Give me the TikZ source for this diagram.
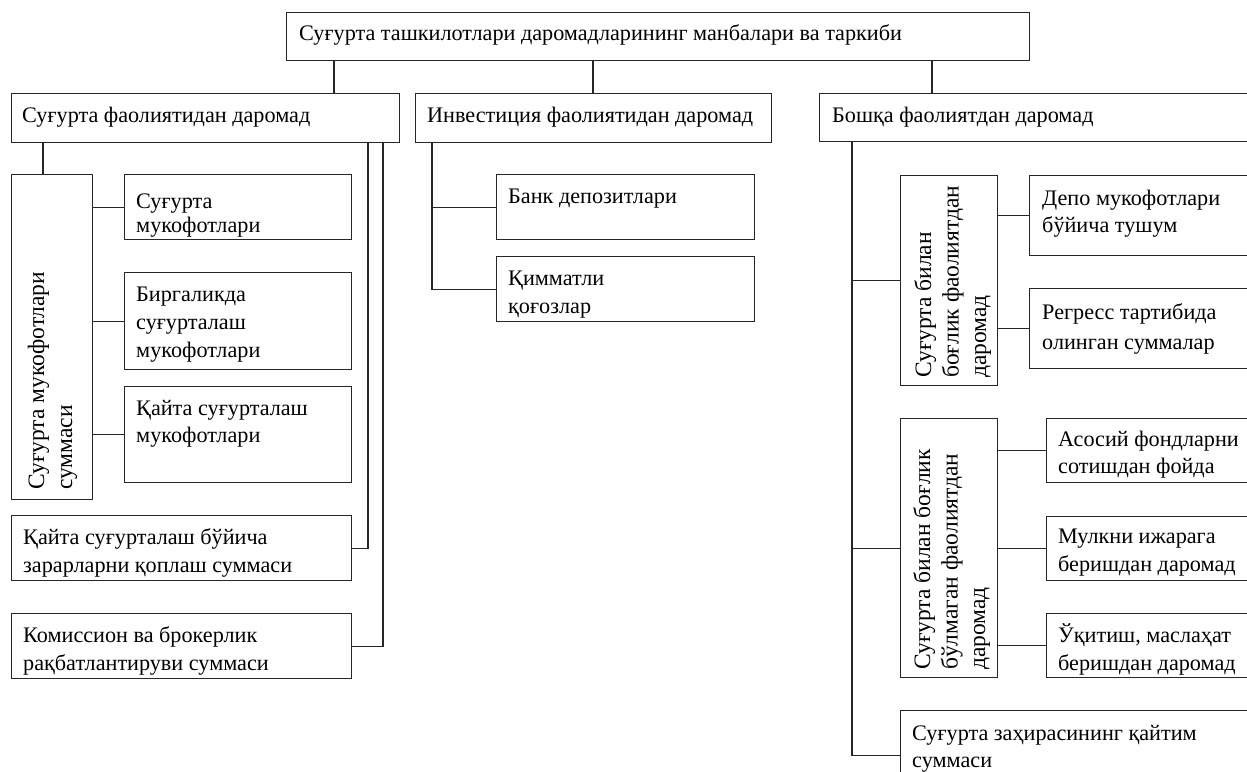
\documentclass[tikz,border=0pt]{standalone}
\usepackage{fontspec}
\setmainfont{Liberation Serif}
\tikzset{
  box/.style={draw=black!85, line width=1.2pt, rectangle, inner sep=0pt, anchor=north west},
  txt/.style={inner sep=0pt, anchor=base west, font=\fontsize{22.2}{28}\selectfont},
  vtxt/.style={txt, rotate=90, font=\fontsize{23.5}{27.5}\selectfont},
  conn/.style={draw=black!85, line width=1.2pt}
}
\newcommand\tl[2]{\vtop{\hbox{#1}\hbox{#2}}}
\newcommand\thl[3]{\vtop{\hbox{#1}\hbox{#2}\hbox{#3}}}
\begin{document}
\begin{tikzpicture}[x=1pt,y=-1pt]
\useasboundingbox[fill=white] (0,0) rectangle (1247,771);
% top
\node[box, minimum width=743, minimum height=48] (top) at (286,12) {};
\node[txt] (topt) at (299,40) {Суғурта ташкилотлари даромадларининг манбалари ва таркиби};
% level 1
\node[box, minimum width=388, minimum height=49] (s) at (11,93) {};
\node[txt] (st) at (22,122) {Суғурта фаолиятидан даромад};
\node[box, minimum width=356, minimum height=49] (i) at (415,93) {};
\node[txt] (it) at (427,122) {Инвестиция фаолиятидан даромад};
\node[box, minimum width=450, minimum height=48] (b) at (819,93) {};
\node[txt] (bt) at (832,122) {Бошқа фаолиятдан даромад};
% left branch
\node[box, minimum width=81, minimum height=325] (v1) at (11,174) {};
\node[vtxt, font=\fontsize{23.5}{28}\selectfont] (v1t) at (44,490) {\tl{Суғурта мукофотлари}{суммаси}};
\node[box, minimum width=227, minimum height=65] (s1) at (124,174) {};
\node[txt, font=\fontsize{22.2}{24}\selectfont] (s1t) at (136,208) {\tl{Суғурта}{мукофотлари}};
\node[box, minimum width=227, minimum height=97] (s2) at (124,272) {};
\node[txt] (s2t) at (136,301) {\thl{Биргаликда}{суғурталаш}{мукофотлари}};
\node[box, minimum width=227, minimum height=96] (s3) at (124,386) {};
\node[txt, font=\fontsize{22.2}{27}\selectfont] (s3t) at (136,415) {\tl{Қайта суғурталаш}{мукофотлари}};
\node[box, minimum width=340, minimum height=65] (s4) at (11,515) {};
\node[txt] (s4t) at (23,544) {\tl{Қайта суғурталаш бўйича}{зарарларни қоплаш суммаси}};
\node[box, minimum width=340, minimum height=65] (s5) at (11,613) {};
\node[txt] (s5t) at (23,642) {\tl{Комиссион ва брокерлик}{рақбатлантируви суммаси}};
% investment branch
\node[box, minimum width=258, minimum height=65] (i1) at (496,174) {};
\node[txt] (i1t) at (508,203) {Банк депозитлари};
\node[box, minimum width=258, minimum height=65] (i2) at (496,256) {};
\node[txt] (i2t) at (508,285) {\tl{Қимматли}{қоғозлар}};
% other branch
\node[box, minimum width=97, minimum height=210] (v2) at (900,175) {};
\node[vtxt] (v2t) at (931,378) {\thl{Суғурта билан}{боғлик фаолиятдан}{даромад}};
\node[box, minimum width=240, minimum height=80] (b1) at (1029,175) {};
\node[txt, font=\fontsize{22.2}{27}\selectfont] (b1t) at (1042,205) {\tl{Депо мукофотлари}{бўйича тушум}};
\node[box, minimum width=240, minimum height=80] (b2) at (1029,288) {};
\node[txt, font=\fontsize{22.2}{30}\selectfont] (b2t) at (1042,319) {\tl{Регресс тартибида}{олинган суммалар}};
\node[box, minimum width=97, minimum height=259] (v3) at (900,418) {};
\node[vtxt] (v3t) at (930,670) {\thl{Суғурта билан боғлик}{бўлмаган фаолиятдан}{даромад}};
\node[box, minimum width=230, minimum height=64] (b3) at (1046,418) {};
\node[txt, font=\fontsize{22.2}{27}\selectfont] (b3t) at (1058,446) {\tl{Асосий фондларни}{сотишдан фойда}};
\node[box, minimum width=230, minimum height=64] (b4) at (1046,516) {};
\node[txt] (b4t) at (1058,543) {\tl{Мулкни ижарага}{беришдан даромад}};
\node[box, minimum width=230, minimum height=64] (b5) at (1046,613) {};
\node[txt] (b5t) at (1058,642) {\tl{Ўқитиш, маслаҳат}{беришдан даромад}};
\node[box, minimum width=380, minimum height=90] (b6) at (900,710) {};
\node[txt, font=\fontsize{22.2}{27}\selectfont] (b6t) at (912,740) {\tl{Суғурта заҳирасининг қайтим}{суммаси}};
% connectors top
\draw[conn] (top.south west) ++(48,0) coordinate (ta) -- (ta |- s.north);
\draw[conn] (top.south west) ++(307,0) coordinate (tb) -- (tb |- i.north);
\draw[conn] (top.south west) ++(646,0) coordinate (tc) -- (tc |- b.north);
% left
\draw[conn] (s.south west) ++(32,0) coordinate (sa) -- (sa |- v1.north);
\draw[conn] (v1.east |- s1.west) -- (s1.west);
\draw[conn] (v1.east |- s2.west) -- (s2.west);
\draw[conn] (v1.east |- s3.west) -- (s3.west);
\draw[conn] (s.south west) ++(357,0) coordinate (sb) -- (sb |- s4.east) -- (s4.east);
\draw[conn] (s.south west) ++(372,0) coordinate (sc) -- (sc |- s5.east) -- (s5.east);
% investment
\draw[conn] (i.south west) ++(17,0) coordinate (ia) -- (ia |- i2.west) -- (i2.west);
\draw[conn] (ia |- i1.west) -- (i1.west);
% other
\draw[conn] (b.south west) ++(33,0) coordinate (ba) -- (ba |- b6.west) -- (b6.west);
\draw[conn] (ba |- v2.west) -- (v2.west);
\draw[conn] (ba |- v3.west) -- (v3.west);
\draw[conn] (v2.east |- b1.west) -- (b1.west);
\draw[conn] (v2.east |- b2.west) -- (b2.west);
\draw[conn] (v3.east |- b3.west) -- (b3.west);
\draw[conn] (v3.east |- b4.west) -- (b4.west);
\draw[conn] (v3.east |- b5.west) -- (b5.west);
\end{tikzpicture}
\end{document}
